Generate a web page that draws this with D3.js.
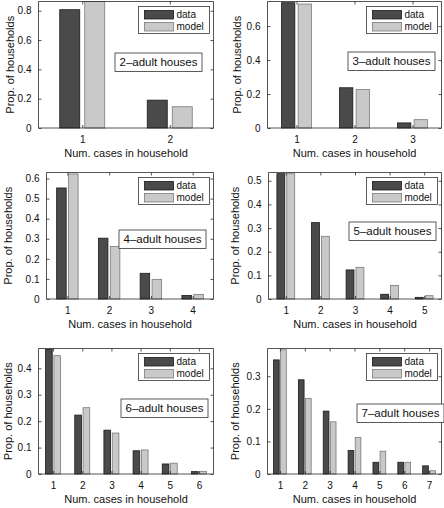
<!DOCTYPE html>
<html><head><meta charset="utf-8">
<script src="https://cdn.jsdelivr.net/npm/d3@7"></script>
<style>body{margin:0;background:#fff}svg{display:block}text{font-family:"Liberation Sans",Arial,sans-serif;fill:#111}</style>
</head><body>
<script>
// ---- data ----
const titles = ["2\u2013adult houses","3\u2013adult houses","4\u2013adult houses","5\u2013adult houses","6\u2013adult houses","7\u2013adult houses"];
const seriesNames = ["data","model"];
const data2 = [0.807, 0.190];
const model2 = [0.863, 0.145];
const data3 = [0.738, 0.237, 0.030];
const model3 = [0.730, 0.227, 0.049];
const data4 = [0.553, 0.303, 0.128, 0.018];
const model4 = [0.623, 0.262, 0.098, 0.023];
const data5 = [0.530, 0.323, 0.123, 0.020, 0.007];
const model5 = [0.530, 0.265, 0.134, 0.057, 0.014];
const data6 = [0.472, 0.223, 0.166, 0.088, 0.038, 0.009];
const model6 = [0.448, 0.251, 0.155, 0.091, 0.041, 0.010];
const data7 = [0.350, 0.289, 0.193, 0.072, 0.036, 0.036, 0.025];
const model7 = [0.381, 0.232, 0.160, 0.112, 0.070, 0.036, 0.010];
const yTicks2 = [0, 0.2, 0.4, 0.6, 0.8];
const yTicks3 = [0, 0.2, 0.4, 0.6];
const yTicks4 = [0, 0.1, 0.2, 0.3, 0.4, 0.5, 0.6];
const yTicks5 = [0, 0.1, 0.2, 0.3, 0.4, 0.5];
const yTicks6 = [0, 0.1, 0.2, 0.3, 0.4];
const yTicks7 = [0, 0.1, 0.2, 0.3];
const yMax = [0.863, 0.745, 0.63, 0.535, 0.475, 0.385];
const xLabel = "Num. cases in household";
const yLabel = "Prop. of households";

const W = 444, H = 508;
const svg = d3.select("body").append("svg").attr("width", W).attr("height", H);

const panels = [
  {d: data2, m: model2, t: yTicks2, box: [38.5, 213.5, 1.5, 128], ylx: 10, tb: [115, 53]},
  {d: data3, m: model3, t: yTicks3, box: [267.5, 441.5, 1.5, 128], ylx: 237, tb: [348, 52]},
  {d: data4, m: model4, t: yTicks4, box: [46.5, 213.5, 172.5, 299], ylx: 8, tb: [119, 230]},
  {d: data5, m: model5, t: yTicks5, box: [268.5, 441.5, 172.5, 299], ylx: 235, tb: [349, 222]},
  {d: data6, m: model6, t: yTicks6, box: [38.5, 213.5, 348.5, 474], ylx: 8, tb: [121, 399]},
  {d: data7, m: model7, t: yTicks7, box: [267.5, 441.5, 348.5, 474], ylx: 235, tb: [357, 404]}
];

const fmt = v => v === 0 ? "0" : d3.format(".1f")(v);
const colors = {fill: ["#4a4a4a", "#c9c9c9"], stroke: ["#1a1a1a", "#7a7a7a"]};
const axisColor = "#2a2a2a";

panels.forEach((p, i) => {
  const [x0, x1, y0, y1] = p.box;
  const n = p.d.length;
  const cats = d3.range(1, n + 1);
  const x = d3.scaleLinear().domain([0.5, n + 0.5]).range([x0, x1]);
  const y = d3.scaleLinear().domain([0, yMax[i]]).range([y1, y0]);
  const g = svg.append("g");

  // bars
  const groupW = Math.min(0.8, 2 / 3.5);
  const bw = groupW / 2 * 0.8;
  [p.d, p.m].forEach((vals, s) => {
    const off = (s === 0 ? -1 : 1) * groupW / 4;
    g.selectAll(null).data(vals).enter().append("rect")
      .attr("x", (v, k) => x(cats[k] + off - bw / 2))
      .attr("width", x(bw) - x(0))
      .attr("y", v => y(v))
      .attr("height", v => y(0) - y(v))
      .attr("fill", colors.fill[s])
      .attr("stroke", colors.stroke[s])
      .attr("stroke-width", 0.8);
  });

  // axes (inward ticks, boxed)
  const tl = 3;
  const axB = d3.axisBottom(x).tickValues(cats).tickSize(-tl).tickPadding(5 + tl).tickFormat(d3.format("d"));
  const axT = d3.axisTop(x).tickValues(cats).tickSize(-tl).tickFormat("");
  const axL = d3.axisLeft(y).tickValues(p.t).tickSize(-tl).tickPadding(4 + tl).tickFormat(fmt);
  const axR = d3.axisRight(y).tickValues(p.t).tickSize(-tl).tickFormat("");
  const style = sel => {
    sel.selectAll("path").attr("stroke", axisColor).attr("stroke-width", 0.8);
    sel.selectAll("line").attr("stroke", axisColor).attr("stroke-width", 0.8);
    sel.selectAll("text").attr("font-size", 10).attr("fill", "#111").attr("font-family", "Liberation Sans, Arial, sans-serif");
  };
  g.append("g").attr("transform", `translate(0,${y1})`).call(axB).call(style).call(s => s.select(".domain").attr("d", `M${x0},0H${x1}`));
  g.append("g").attr("transform", `translate(0,${y0})`).call(axT).call(style).call(s => s.select(".domain").attr("d", `M${x0},0H${x1}`));
  g.append("g").attr("transform", `translate(${x0},0)`).call(axL).call(style).call(s => s.select(".domain").attr("d", `M0,${y0}V${y1}`));
  g.append("g").attr("transform", `translate(${x1},0)`).call(axR).call(style).call(s => s.select(".domain").attr("d", `M0,${y0}V${y1}`));

  // axis labels
  g.append("text").attr("x", (x0 + x1) / 2).attr("y", y1 + 29).attr("text-anchor", "middle")
    .attr("font-size", 11).text(xLabel);
  g.append("text").attr("transform", `translate(${p.ylx + 4},${(y0 + y1) / 2}) rotate(-90)`)
    .attr("text-anchor", "middle").attr("font-size", 11).text(yLabel);

  // legend
  const lw = 71, lh = 27;
  const lx = x1 - 4 - lw, ly = y0 + 5;
  const lg = g.append("g").attr("transform", `translate(${lx},${ly})`);
  lg.append("rect").attr("width", lw).attr("height", lh).attr("fill", "#fff").attr("stroke", "#333").attr("stroke-width", 0.8);
  seriesNames.forEach((nm, s) => {
    lg.append("rect").attr("x", 6).attr("y", 4 + s * 12).attr("width", 29).attr("height", 8.5)
      .attr("fill", colors.fill[s]).attr("stroke", colors.stroke[s]).attr("stroke-width", 0.8);
    lg.append("text").attr("x", 38).attr("y", 11.5 + s * 12).attr("font-size", 10).text(nm);
  });

  // title text box
  const tbw = 87, tbh = 18.5;
  const tg = g.append("g").attr("transform", `translate(${p.tb[0]},${p.tb[1]})`);
  tg.append("rect").attr("width", tbw).attr("height", tbh).attr("fill", "#fff").attr("stroke", "#333").attr("stroke-width", 0.8);
  tg.append("text").attr("x", tbw / 2).attr("y", tbh / 2 + 4).attr("text-anchor", "middle").attr("font-size", 11.5).text(titles[i]);
});
</script>
</body></html>
